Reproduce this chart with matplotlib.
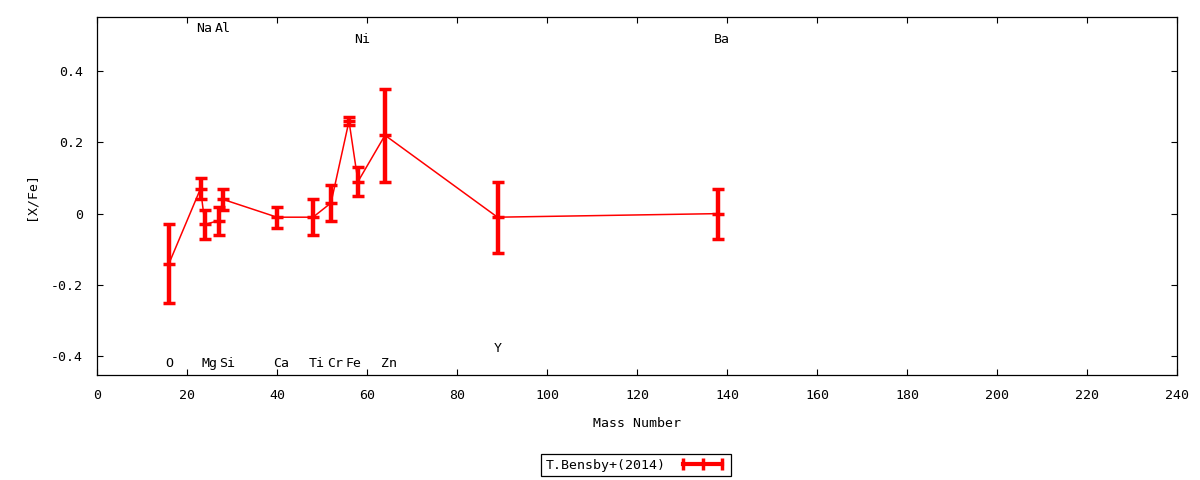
import matplotlib
matplotlib.use("Agg")
import matplotlib.pyplot as plt
from matplotlib.lines import Line2D

# abundance pattern, T.Bensby+(2014)
mass = [16, 23, 24, 27, 28, 40, 48, 52, 56, 58, 64, 89, 138]
xfe = [-0.14, 0.07, -0.03, -0.02, 0.04, -0.01, -0.01, 0.03, 0.26, 0.09, 0.22, -0.01, 0.00]
err = [0.11, 0.03, 0.04, 0.04, 0.03, 0.03, 0.05, 0.05, 0.01, 0.04, 0.13, 0.10, 0.07]

# element labels
elem = ["O", "Na", "Mg", "Al", "Si", "Ca", "Ti", "Cr", "Fe", "Ni", "Zn", "Y", "Ba"]
elem_x = [16, 23.9, 24.9, 27.9, 28.9, 40.9, 48.9, 52.9, 56.9, 58.9, 64.9, 89, 138.9]
elem_y = [-0.42, 0.52, -0.42, 0.52, -0.42, -0.42, -0.42, -0.42, -0.42, 0.49, -0.42, -0.38, 0.49]

xticks = list(range(0, 241, 20))
yticks = [-0.4, -0.2, 0, 0.2, 0.4]
ytick_labels = ["-0.4", "-0.2", "0", "0.2", "0.4"]

plt.rcParams["font.family"] = ["DejaVu Sans Mono"]
plt.rcParams["font.size"] = 9.5

fig = plt.figure(figsize=(12, 4.8), dpi=100)
ax = fig.add_axes([97 / 1200, 1 - 375 / 480, 1080 / 1200, 358 / 480])

ax.errorbar(mass, xfe, yerr=err, color="red", lw=1.1, elinewidth=3.2,
            capsize=4, capthick=2.5, marker="_", markersize=9, mew=2.5)

for name, x, y in zip(elem, elem_x, elem_y):
    ax.text(x, y, name, ha="center", va="center")

ax.set_xlim(0, 240)
ax.set_ylim(-0.453, 0.552)
ax.set_xticks(xticks)
ax.set_yticks(yticks)
ax.set_yticklabels(ytick_labels)
ax.tick_params(direction="in", length=4, top=True, right=True, width=0.8)
ax.tick_params(axis="x", pad=10)
ax.tick_params(axis="y", pad=10)
for s in ax.spines.values():
    s.set_linewidth(0.9)

ax.set_xlabel("Mass Number", labelpad=11)
ax.set_ylabel("[X/Fe]", labelpad=10)

handle = Line2D([], [], color="red", lw=3, marker="|", markersize=8, mew=2.5)
leg = fig.legend([handle], ["T.Bensby+(2014)"], loc="center",
                 bbox_to_anchor=(636 / 1200, 1 - 465 / 480), markerfirst=False,
                 numpoints=3, fancybox=False, framealpha=1, edgecolor="black",
                 borderpad=0.35, borderaxespad=0, handlelength=3.6,
                 handletextpad=1.0)
leg.get_frame().set_linewidth(0.9)

fig.savefig("out.png", dpi=100)
